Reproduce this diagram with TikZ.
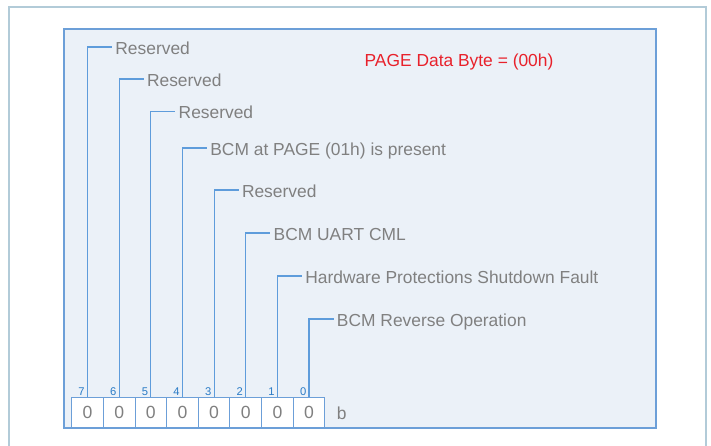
\documentclass[tikz,border=0pt]{standalone}
\usepackage{fontspec}
\setmainfont{Liberation Sans}
\usetikzlibrary{positioning}

\definecolor{panelfill}{HTML}{EBF1F8}
\definecolor{panelline}{HTML}{6C9FD8}
\definecolor{outerline}{HTML}{B2CBD8}
\definecolor{leadline}{HTML}{5E9CDB}
\definecolor{textgrey}{HTML}{808080}
\definecolor{bitblue}{HTML}{2A7BC6}
\definecolor{titlered}{HTML}{E8212B}

\begin{document}
\begin{tikzpicture}[x=0.5pt,y=-0.5pt,
    bitcell/.style={draw=panelline,line width=0.5pt,fill=white,minimum width=15.85pt,
                    minimum height=15pt,inner sep=0pt,text=textgrey,
                    font=\fontsize{8.8}{10}\selectfont},
    bitnum/.style={text=bitblue,font=\fontsize{5.6}{6}\selectfont,inner sep=0.6pt,
                   anchor=south east},
    fieldlabel/.style={text=textgrey,font=\fontsize{8.7}{10}\selectfont,anchor=west,
                       inner sep=1.5pt,text height=0.72em,text depth=0pt},
    lead/.style={draw=leadline,line width=0.6pt}]
\useasboundingbox (0,0) rectangle (711,445);

% frames
\draw[outerline,line width=0.6pt] (9,446) |- (706,7) -- (706,446);
\draw[panelline,fill=panelfill,line width=0.6pt] (64,29) rectangle (656,428);

\node[fieldlabel,text=titlered,anchor=center] (title) at (459,59) {PAGE Data Byte = (00h)};

% bit cells
\foreach \i in {0,...,7}
    \node[bitcell] (b\i) at ({87.5+31.65*(7-\i)},412.5) {0};
\node[fieldlabel,right=4pt of b0] (unit) {b};

% field labels
\foreach \i/\y/\txt in {7/47/Reserved, 6/79/Reserved, 5/111.5/Reserved,
                        4/148/{BCM at PAGE (01h) is present}, 3/190/Reserved,
                        2/233/{BCM UART CML}, 1/276/{Hardware Protections Shutdown Fault},
                        0/319/{BCM Reverse Operation}} {
    \node[fieldlabel] (l\i) at ({87.5+31.65*(7-\i)+24.5},\y) {\txt};
    \path[lead] (b\i.north) |- (l\i.west);
    \node[bitnum] (n\i) at ([xshift=-0.6pt]b\i.north) {\i};
}
\end{tikzpicture}
\end{document}
